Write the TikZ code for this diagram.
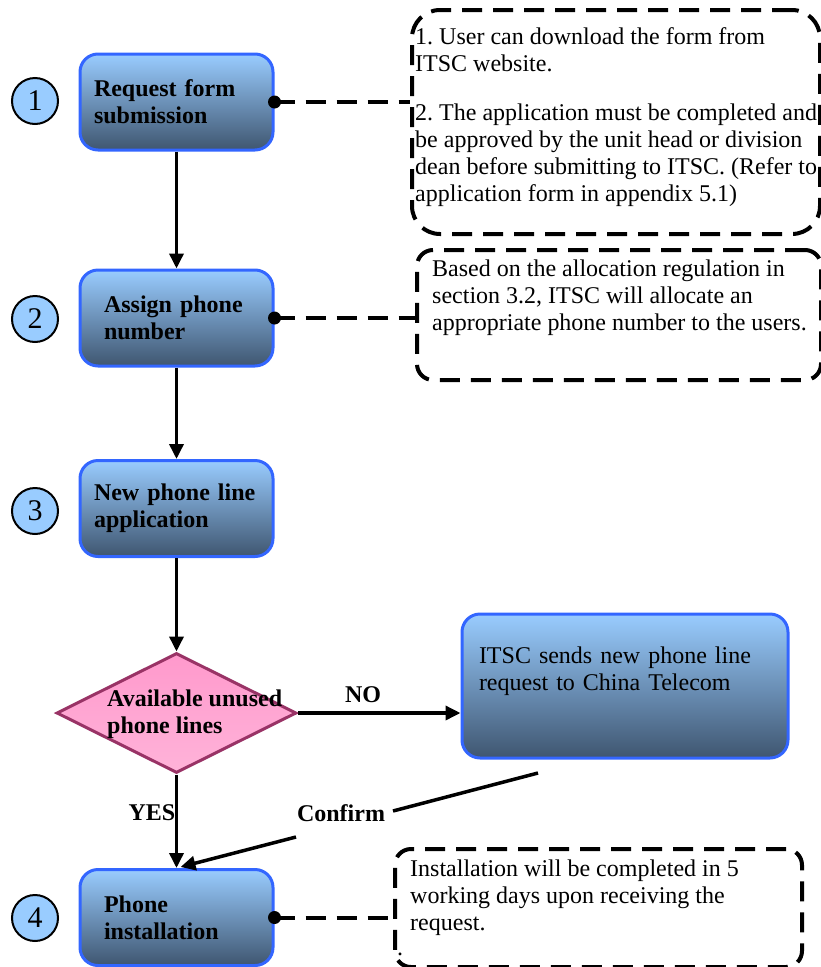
\documentclass[tikz,border=0pt]{standalone}
\usepackage{fontspec}
\setmainfont{Liberation Serif}
\usetikzlibrary{shapes.geometric,arrows.meta,calc}
\definecolor{boxtop}{HTML}{99CCFF}
\definecolor{boxbot}{HTML}{3F5670}
\definecolor{boxline}{HTML}{3366FF}
\definecolor{dpinktop}{HTML}{FF99CC}
\definecolor{dpinkbot}{HTML}{FFB3D9}
\definecolor{dline}{HTML}{993366}
\begin{document}
\frenchspacing
\begin{tikzpicture}[x=1pt,y=-1pt,
  every node/.style={font=\fontsize{24}{27}\selectfont},
  proc/.style={draw=boxline, line width=3pt, rounded corners=18pt,
    top color=boxtop, bottom color=boxbot, minimum width=193pt,
    minimum height=96pt, text width=165pt, align=left,
    font=\fontsize{24}{27}\selectfont\bfseries, inner xsep=14pt, inner ysep=0pt},
  numc/.style={circle, draw=black, line width=2pt, fill=boxtop, minimum size=46pt,
    inner sep=0pt, font=\fontsize{30}{30}\selectfont},
  note/.style={draw=black, line width=4pt, dash pattern=on 20pt off 11pt,
    rounded corners=28pt, anchor=north west, inner sep=0pt},
  notetext/.style={anchor=north west, align=left, inner sep=0pt},
  flow/.style={line width=3.5pt, -{Triangle[length=15pt,width=14pt]}},
  dconn/.style={line width=4pt, dash pattern=on 20pt off 11pt},
  lbl/.style={font=\fontsize{24}{27}\selectfont\bfseries},
]
\useasboundingbox (0,0) rectangle (820,967);

% process boxes
\node[proc] (b1) at (176.5,102) {Request form\\submission};
\node[proc, inner xsep=24pt, text width=145pt] (b2) at (176.5,318) {Assign phone\\number};
\node[proc] (b3) at (176.5,508.5) {New phone line\\application};
\node[proc, inner xsep=24pt, text width=145pt] (b4) at (176.5,917.5) {Phone\\installation};

% decision
\node[diamond, draw=dline, line width=3pt, top color=dpinktop, bottom color=dpinkbot,
  minimum width=240pt, minimum height=120pt, inner sep=0pt] (dec) at (176.5,713) {};
\node[lbl, anchor=west, align=left, inner sep=0pt] (dect) at (107,714) {Available unused\\phone lines};

% China Telecom box
\node[proc, minimum width=326pt, minimum height=144pt, text width=292pt,
  font=\fontsize{24}{27}\selectfont, inner xsep=17pt] (ct) at (625,686)
  {ITSC sends new phone line\\request to China Telecom\\\strut};

% number circles
\node[numc] (n1) at (35,101) {1};
\node[numc] (n2) at (35,319) {2};
\node[numc] (n3) at (35,511) {3};
\node[numc] (n4) at (35,918) {4};

% notes
\node[note, minimum width=408pt, minimum height=224pt] (m1) at (410,8) {};
\node[notetext] (m1t) at (415,27)
  {1. User can download the form from\\ITSC website.\\[22pt]2. The application must be completed and\\be approved by the unit head or division\\dean before submitting to ITSC. (Refer to\\application form in appendix 5.1)};
\node[note, rounded corners=16pt, minimum width=404pt, minimum height=130pt] (m2) at (415,248) {};
\node[notetext] (m2t) at (432,260)
  {Based on the allocation regulation in\\section 3.2, ITSC will allocate an\\appropriate phone number to the users.};
\node[note, rounded corners=16pt, minimum width=407pt, minimum height=118pt] (m3) at (393,847) {};
\node[notetext] (m3t) at (410,860)
  {Installation will be completed in 5\\working days upon receiving the\\request.};
\node[anchor=base west, inner sep=0pt] (m3dot) at (397,955) {.};

% flow arrows
\draw[flow] (b1.south) -- (b2.north);
\draw[flow] (b2.south) -- (b3.north);
\draw[flow] (b3.south) -- (dec.north);
\draw[flow] (dec.south) -- (b4.north);
\draw[flow] (dec.east) -- (dec.east -| ct.west);
\node[lbl] (no) at (363,695) {NO};
\node[lbl] (yes) at (152,813) {YES};

% confirm
\coordinate (c1) at (538,773);
\coordinate (c2) at (393,811);
\coordinate (c3) at (296,837);
\node[lbl] (conf) at (341,813) {Confirm};
\draw[line width=3.5pt] (c1) -- (c2);
\draw[flow] (c3) -- ($(b4.north)+(4,-1)$);

% dashed connectors
\draw[dconn] (b1.east) -- (m1.west |- b1.east);
\fill (b1.east) circle (6.5pt);
\draw[dconn] (b2.east) -- (m2.west |- b2.east);
\fill (b2.east) circle (6.5pt);
\draw[dconn] (b4.east) -- (m3.west |- b4.east);
\fill (b4.east) circle (6.5pt);
\end{tikzpicture}
\end{document}
